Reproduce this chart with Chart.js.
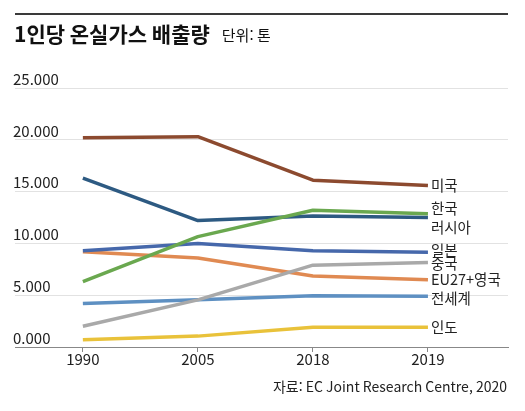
<!DOCTYPE html>
<html lang="ko">
<head>
    <meta charset="UTF-8">
    <title>1인당 온실가스 배출량</title>
    <script src="https://cdn.jsdelivr.net/npm/chart.js"></script>
    <style>
        html, body { margin: 0; padding: 0; background: #fff; }
        #wrap { width: 525px; height: 411px; position: relative; }
    </style>
</head>
<body>
<div id="wrap">
    <canvas id="chart" width="525" height="411"></canvas>
</div>
<script>
    // 연도 (x축)
    const years = ['1990', '2005', '2018', '2019'];
    // 국가/지역 이름
    const regions = ['미국', '한국', '러시아', '일본', '중국', 'EU27+영국', '전세계', '인도'];
    // 1인당 배출량 (톤)
    const usa    = [20.2, 20.3, 16.1, 15.6];
    const korea  = [6.3, 10.65, 13.2, 12.85];
    const russia = [16.3, 12.2, 12.65, 12.5];
    const japan  = [9.3, 10.0, 9.3, 9.15];
    const china  = [2.0, 4.55, 7.9, 8.15];
    const eu     = [9.2, 8.6, 6.85, 6.5];
    const world  = [4.2, 4.55, 4.95, 4.9];
    const india  = [0.7, 1.05, 1.9, 1.9];
    const yTicks = [0, 5, 10, 15, 20, 25];

    const seriesValues = [usa, korea, russia, japan, china, eu, world, india];
    const colors = ['#8c4a2f', '#6aa84f', '#2d5a82', '#4668ab', '#a9a9a9', '#e08a52', '#5e90c2', '#e9c23a'];
    // 오른쪽 이름표 세로 위치 보정(px)
    const labelShift = [0, -5, 10, -2, 1, 0, 2, 0];

    const FONT = '"Noto Sans CJK KR", "Noto Sans", sans-serif';

    const decor = {
        id: 'decor',
        afterDraw(chart) {
            const ctx = chart.ctx;
            ctx.save();
            // 상단 선
            ctx.fillStyle = '#3a3a3a';
            ctx.fillRect(15, 13, 493, 2);

            // 제목
            ctx.fillStyle = '#111';
            ctx.textBaseline = 'middle';
            ctx.textAlign = 'left';
            ctx.font = 'bold 21px ' + FONT;
            ctx.fillText('1인당 온실가스 배출량', 14, 34);
            const w = ctx.measureText('1인당 온실가스 배출량').width;
            ctx.font = '15px ' + FONT;
            ctx.fillText('단위: 톤', 14 + w + 12, 35);

            // 출처
            ctx.textAlign = 'right';
            ctx.font = '14px ' + FONT;
            ctx.fillStyle = '#222';
            ctx.fillText('자료: EC Joint Research Centre, 2020', 507, 387);

            // 계열 이름표
            ctx.textAlign = 'left';
            ctx.font = '14.5px ' + FONT;
            chart.data.datasets.forEach((ds, i) => {
                const pt = chart.getDatasetMeta(i).data[years.length - 1];
                ctx.fillText(ds.label, pt.x + 3, pt.y + labelShift[i]);
            });
            ctx.restore();
        }
    };

    new Chart(document.getElementById('chart'), {
        type: 'line',
        data: {
            datasets: regions.map((name, i) => ({
                label: name,
                data: seriesValues[i].map((v, j) => ({ x: j, y: v })),
                borderColor: colors[i],
                backgroundColor: colors[i],
                borderWidth: 3.5,
                pointRadius: 0,
                tension: 0,
                borderCapStyle: 'butt',
                borderJoinStyle: 'round'
            }))
        },
        options: {
            responsive: false,
            animation: false,
            layout: { padding: { left: 15, right: 17, top: 88, bottom: 0 } },
            plugins: {
                legend: { display: false },
                tooltip: { enabled: false }
            },
            scales: {
                x: {
                    type: 'linear',
                    min: -0.59,
                    max: 3.696,
                    afterBuildTicks: s => { s.ticks = years.map((y, j) => ({ value: j })); },
                    afterFit: s => { s.height = 64; },
                    ticks: {
                        callback: v => years[v],
                        color: '#222',
                        font: { family: FONT, size: 15 },
                        padding: -2,
                        maxRotation: 0
                    },
                    grid: { drawOnChartArea: false, drawTicks: true, tickLength: 5, color: '#888' },
                    border: { color: '#888', width: 1 }
                },
                y: {
                    min: 0,
                    max: 25,
                    afterBuildTicks: s => { s.ticks = yTicks.map(v => ({ value: v })); },
                    afterFit: s => { s.width = 0; },
                    ticks: {
                        mirror: true,
                        padding: -2,
                        labelOffset: -9,
                        callback: v => v.toFixed(3),
                        color: '#222',
                        font: { family: FONT, size: 15 }
                    },
                    grid: { color: '#e2e2e2', drawTicks: false },
                    border: { display: false }
                }
            }
        },
        plugins: [decor]
    });
</script>
</body>
</html>
